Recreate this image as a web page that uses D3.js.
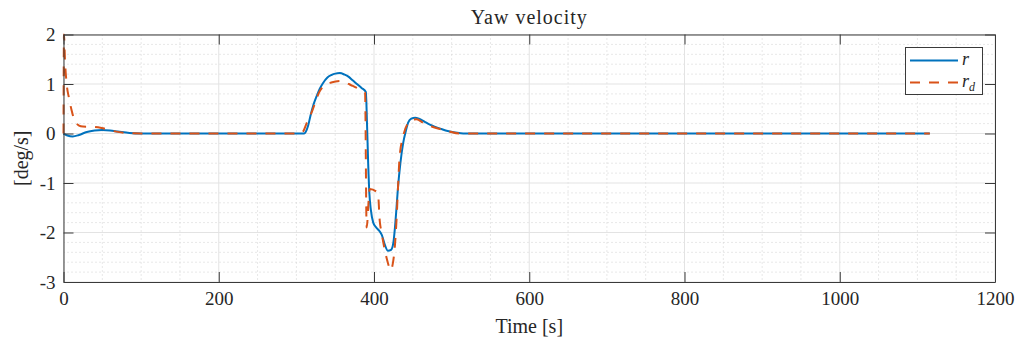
<!DOCTYPE html>
<html>
<head>
<meta charset="utf-8">
<script src="https://cdn.jsdelivr.net/npm/d3@7"></script>
<style>
  html, body { margin: 0; padding: 0; background: #fff; }
  svg { display: block; }
  svg text { font-family: "Liberation Serif", "DejaVu Serif", serif !important; fill: #262626; }
</style>
</head>
<body>
<svg id="chart" width="1019" height="343"></svg>
<script>
// Yaw velocity r and its reference r_d over time [s]
const timeR = [0, 5, 12, 20, 30, 40, 50, 60, 70, 85, 100, 310, 312, 315, 318, 322, 326, 330, 334, 340, 345, 350, 356, 362, 367, 372, 378, 384, 389.5,
  391, 392.5, 394, 396, 399, 403, 407, 410, 414, 418, 422, 425, 427, 429, 431, 434, 437.5, 441, 444, 448, 453, 458, 465, 472, 478, 487, 495, 505, 515, 1116];
const rValues = [0, -0.04, -0.06, -0.03, 0.03, 0.06, 0.07, 0.06, 0.04, 0.01, 0, 0, 0.03, 0.15, 0.35, 0.58, 0.75, 0.9, 1.01, 1.13, 1.18, 1.21, 1.22, 1.19, 1.15, 1.08, 1.0, 0.92, 0.84,
  0.2, -0.6, -1.2, -1.55, -1.8, -1.9, -1.97, -2.05, -2.25, -2.37, -2.35, -2.2, -1.9, -1.5, -1.07, -0.6, -0.2, 0.05, 0.22, 0.3, 0.32, 0.3, 0.24, 0.18, 0.14, 0.09, 0.05, 0.02, 0, 0];

const timeRd = [0, 0.6, 2, 4.1, 7, 10.6, 13, 16, 20, 25, 40, 49, 64, 80, 100, 304, 309, 313, 317, 321, 325, 329, 333, 337, 345, 357, 362, 370, 378, 386, 388.5,
  390.5, 394.5, 405, 407.5, 409.7, 416, 418, 421.6, 424, 426.8, 429, 431, 433, 437.5, 444, 450, 455, 463, 470, 478, 487, 495, 510, 1116];
const rdValues = [0, 2.0, 1.45, 1.0, 0.72, 0.46, 0.32, 0.22, 0.16, 0.14, 0.13, 0.11, 0.05, 0.01, 0, 0, 0.05, 0.2, 0.33, 0.48, 0.66, 0.82, 0.92, 0.98, 1.03, 1.06, 1.04, 0.98, 0.92, 0.85, 0.82,
  -1.9, -1.12, -1.2, -1.78, -2.0, -2.5, -2.62, -2.76, -2.65, -2.29, -1.75, -1.07, -0.47, -0.06, 0.21, 0.28, 0.29, 0.22, 0.17, 0.12, 0.08, 0.05, 0, 0];

const xTicks = [0, 200, 400, 600, 800, 1000, 1200];
const yTicks = [2, 1, 0, -1, -2, -3];
const xMinorTicks = d3.range(0, 1201, 50);
const yMinorTicks = d3.range(-3, 2.001, 0.2).map(v => +v.toFixed(2));

const FONT = "'Liberation Serif', 'DejaVu Serif', serif";
const svg = d3.select("#chart");
const margin = { left: 63.5, right: 24, top: 34.5, bottom: 61 };
const W = 1019, H = 343;
const x = d3.scaleLinear().domain([0, 1200]).range([margin.left, W - margin.right]);
const y = d3.scaleLinear().domain([-3, 2]).range([H - margin.bottom, margin.top]);
const [x0, x1] = x.range();
const [y0, y1] = y.range();

// minor grid (dotted)
const grid = svg.append("g");
grid.selectAll(".xm").data(xMinorTicks.filter(v => !xTicks.includes(v))).join("line")
  .attr("x1", d => x(d)).attr("x2", d => x(d)).attr("y1", y1).attr("y2", y0)
  .attr("stroke", "#d0d0d0").attr("stroke-width", 1).attr("stroke-dasharray", "1,3");
grid.selectAll(".ym").data(yMinorTicks.filter(v => !yTicks.includes(v))).join("line")
  .attr("x1", x0).attr("x2", x1).attr("y1", d => y(d)).attr("y2", d => y(d))
  .attr("stroke", "#d0d0d0").attr("stroke-width", 1).attr("stroke-dasharray", "1,3");
// major grid
grid.selectAll(".xg").data(xTicks).join("line")
  .attr("x1", d => x(d)).attr("x2", d => x(d)).attr("y1", y1).attr("y2", y0)
  .attr("stroke", "#e3e3e3").attr("stroke-width", 1);
grid.selectAll(".yg").data(yTicks).join("line")
  .attr("x1", x0).attr("x2", x1).attr("y1", d => y(d)).attr("y2", d => y(d))
  .attr("stroke", "#e3e3e3").attr("stroke-width", 1);

// data lines
const lineR = d3.line().x((d, i) => x(timeR[i])).y(d => y(d)).curve(d3.curveMonotoneX);
const lineRd = d3.line().x((d, i) => x(timeRd[i])).y(d => y(d)).curve(d3.curveMonotoneX);
const plot = svg.append("g");
plot.append("path").datum(rValues).attr("d", lineR)
  .attr("fill", "none").attr("stroke", "#0072BD").attr("stroke-width", 2).attr("stroke-linejoin", "round");
plot.append("path").datum(rdValues).attr("d", lineRd)
  .attr("fill", "none").attr("stroke", "#D95319").attr("stroke-width", 2).attr("stroke-dasharray", "10,9");

// axes with inward ticks on all four sides
const axisColor = "#3a3a3a";
const tickLen = 10;
const fmt = d => String(d);
const xb = d3.axisBottom(x).tickValues(xTicks).tickFormat(fmt).tickSizeInner(-tickLen).tickSizeOuter(0).tickPadding(10);
const xt = d3.axisTop(x).tickValues(xTicks).tickSizeInner(-tickLen).tickSizeOuter(0).tickFormat("");
const yl = d3.axisLeft(y).tickValues(yTicks).tickFormat(fmt).tickSizeInner(-tickLen).tickSizeOuter(0).tickPadding(8);
const yr = d3.axisRight(y).tickValues(yTicks).tickSizeInner(-tickLen).tickSizeOuter(0).tickFormat("");

function styleAxis(g) {
  g.attr("font-family", FONT).attr("font-size", 19);
  g.select(".domain").attr("stroke", axisColor);
  g.selectAll(".tick line").attr("stroke", axisColor);
  g.selectAll(".tick text").attr("fill", "#262626");
}
svg.append("g").attr("transform", `translate(0,${y0})`).call(xb).call(styleAxis);
svg.append("g").attr("transform", `translate(0,${y1})`).call(xt).call(styleAxis);
svg.append("g").attr("transform", `translate(${x0},0)`).call(yl).call(styleAxis);
svg.append("g").attr("transform", `translate(${x1},0)`).call(yr).call(styleAxis);

// title and axis labels
svg.append("text").attr("x", (x0 + x1) / 2).attr("y", 24).attr("text-anchor", "middle")
  .attr("font-family", FONT).attr("font-size", 20).attr("letter-spacing", 1).text("Yaw velocity");
svg.append("text").attr("x", (x0 + x1) / 2).attr("y", 333).attr("text-anchor", "middle")
  .attr("font-family", FONT).attr("font-size", 20).text("Time [s]");
svg.append("text").attr("transform", `translate(28,${(y0 + y1) / 2}) rotate(-90)`).attr("text-anchor", "middle")
  .attr("font-family", FONT).attr("font-size", 20).text("[deg/s]");

// legend
const lg = svg.append("g").attr("font-family", FONT);
lg.append("rect").attr("x", 905.5).attr("y", 47.5).attr("width", 77).attr("height", 47)
  .attr("fill", "#fff").attr("stroke", axisColor).attr("stroke-width", 1);
lg.append("line").attr("x1", 910).attr("x2", 958).attr("y1", 60.5).attr("y2", 60.5)
  .attr("stroke", "#0072BD").attr("stroke-width", 2);
lg.append("line").attr("x1", 910).attr("x2", 958).attr("y1", 82.5).attr("y2", 82.5)
  .attr("stroke", "#D95319").attr("stroke-width", 2).attr("stroke-dasharray", "10,9");
lg.append("text").attr("x", 962).attr("y", 65).attr("font-size", 18).attr("font-style", "italic").text("r");
const t2 = lg.append("text").attr("x", 962).attr("y", 87).attr("font-size", 18).attr("font-style", "italic");
t2.append("tspan").text("r");
t2.append("tspan").attr("dy", 4).attr("font-size", 12).text("d");
</script>
</body>
</html>
